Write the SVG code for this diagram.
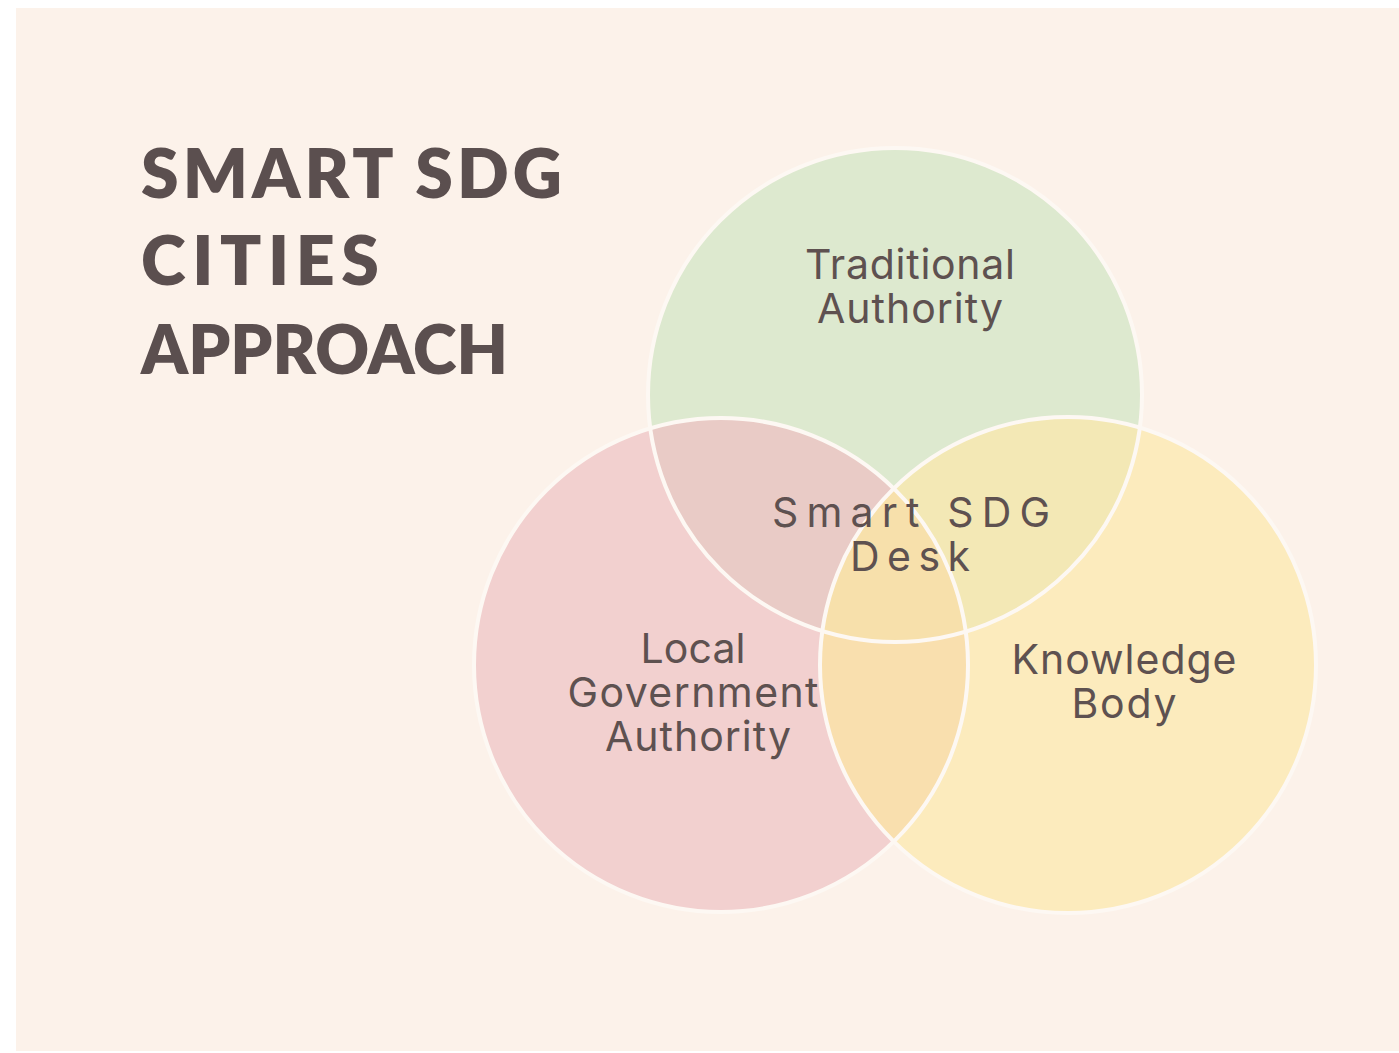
<svg xmlns="http://www.w3.org/2000/svg" width="1399" height="1053" viewBox="0 0 1399 1053">
<style>
.title{font-family:"Lato","Liberation Sans",sans-serif;font-weight:800;font-size:68px;fill:#5b4f4f}
.lbl{font-family:"Inter","Liberation Sans",sans-serif;font-size:41px;fill:#5e5150;text-anchor:middle}
.ring{fill:none;stroke:#fdf8f3;stroke-width:4}
</style>
<defs>
<clipPath id="cG"><circle cx="895" cy="395" r="247"/></clipPath>
<clipPath id="cP"><circle cx="721" cy="665" r="247"/></clipPath>
<clipPath id="cY"><circle cx="1068" cy="665" r="248"/></clipPath>
</defs>
<rect x="0" y="0" width="1399" height="1053" fill="#ffffff"/>
<rect x="16" y="8" width="1383" height="1043" fill="#fcf2ea"/>
<g id="title">
<text class="title" x="141" y="198" textLength="421" lengthAdjust="spacing">SMART SDG</text>
<text class="title" x="141" y="285" textLength="238" lengthAdjust="spacing">CITIES</text>
<text class="title" x="141" y="374" textLength="367" lengthAdjust="spacingAndGlyphs">APPROACH</text>
</g>
<g id="fills">
<circle id="circle-traditional" cx="895" cy="395" r="247" fill="#dde9cf"/>
<circle id="circle-local" cx="721" cy="665" r="247" fill="#f2d0cf"/>
<circle id="circle-knowledge" cx="1068" cy="665" r="248" fill="#fcebbd"/>
<g clip-path="url(#cG)"><circle cx="721" cy="665" r="247" fill="#e9cbc6"/><circle cx="1068" cy="665" r="248" fill="#f3e8b5"/></g>
<g clip-path="url(#cP)"><circle cx="1068" cy="665" r="248" fill="#f9dfae"/></g>
<g clip-path="url(#cG)"><g clip-path="url(#cP)"><circle cx="1068" cy="665" r="248" fill="#f7e0ab"/></g></g>
</g>
<g id="rings">
<circle class="ring" cx="895" cy="395" r="247"/>
<circle class="ring" cx="721" cy="665" r="247"/>
<circle class="ring" cx="1068" cy="665" r="248"/>
</g>
<g id="node-traditional">
<text class="lbl" x="910" y="279" textLength="210">Traditional</text>
<text class="lbl" x="910" y="323" textLength="186">Authority</text>
</g>
<g id="node-local">
<text class="lbl" x="693" y="663" textLength="105">Local</text>
<text class="lbl" x="693" y="707" textLength="251">Government</text>
<text class="lbl" x="698" y="751" textLength="186">Authority</text>
</g>
<g id="node-knowledge">
<text class="lbl" x="1124" y="674" textLength="225">Knowledge</text>
<text class="lbl" x="1124" y="718" textLength="105">Body</text>
</g>
<g id="node-desk">
<text class="lbl" x="911" y="527" textLength="278">Smart SDG</text>
<text class="lbl" x="910" y="571" textLength="120">Desk</text>
</g>
</svg>
